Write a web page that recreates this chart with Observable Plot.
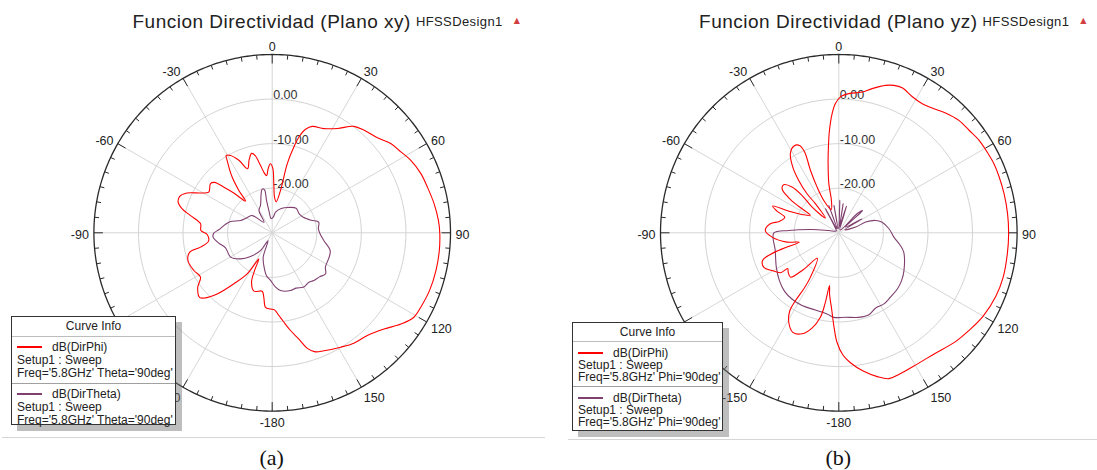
<!DOCTYPE html>
<html><head><meta charset="utf-8">
<script src="https://cdn.jsdelivr.net/npm/d3@7"></script>
<script src="https://cdn.jsdelivr.net/npm/@observablehq/plot@0.6"></script>
<style>
body{margin:0;background:#fff;}
#wrap{position:relative;width:1097px;height:470px;overflow:hidden;font-family:"Liberation Sans",Arial,sans-serif;color:#222}
.title{position:absolute;top:12px;white-space:nowrap;transform:translateX(-50%);font-size:19px;letter-spacing:.5px;line-height:19px;color:#222}
.title .sub{position:absolute;left:100%;top:0;margin-left:5px;font-size:13px;letter-spacing:.4px;line-height:19px}
.title .tri{margin-left:11px;font-size:8px;color:#d24040;font-family:"DejaVu Sans",sans-serif;position:relative;top:-3px}
.panel{position:absolute;top:32px}
.legend{position:absolute;background:#fff;border:1px solid #333;box-shadow:6px 6px 0 rgba(110,110,110,0.45);font-size:12px;box-sizing:border-box;white-space:nowrap}
.legend .hd{text-align:center;border-bottom:1px solid #bdbdbd;box-sizing:border-box}
.legend .ent{padding-left:5px;box-sizing:border-box}
.legend .ent + .ent{border-top:1px solid #a0a0a0}
.legend .sw{display:inline-block;width:25px;height:2px;vertical-align:middle;margin-right:10px;position:relative;top:-1px}
.sep{position:absolute;height:1px;background:#d6d6d6}
.cap{position:absolute;top:445px;font-family:"Liberation Serif","Times New Roman",serif;font-size:22px;transform:translateX(-50%);color:#111}
</style></head><body><div id="wrap"></div>
<script>
// ---------- data ----------
const dbMin = -30, dbMax = 10;
const ringDb = [0, -10, -20];
const ringLabels = ["0.00", "-10.00", "-20.00"];
const angleTicks = [0, 30, 60, 90, 120, 150, 180, -150, -120, -90, -60, -30];
const angleTickLabels = ["0", "30", "60", "90", "120", "150", "-180", "-150", "-120", "-90", "-60", "-30"];
const panelTitles = ["Funcion Directividad (Plano xy)", "Funcion Directividad (Plano yz)"];
const designName = "HFSSDesign1";
const seriesNames = ["dB(DirPhi)", "dB(DirTheta)"];
const seriesColors = ["#ff0000", "#7f3f6f"];
const setupText = "Setup1 : Sweep";
const freqText = ["Freq='5.8GHz' Theta='90deg'", "Freq='5.8GHz' Phi='90deg'"];
const captions = ["(a)", "(b)"];

// [angle deg, dB]
const xyDirPhi = [[7.4,-23.0],[11.1,-20.3],[12.3,-14.1],[14.2,-10.1],[15.6,-7.7],[17.9,-5.6],[20.6,-4.5],[26.4,-3.9],[32.0,-2.4],[37.5,0.1],[41.9,0.9],[47.9,1.8],[53.0,3.3],[57.8,4.1],[62.4,5.1],[68.3,5.9],[73.6,6.3],[79.8,6.9],[85.8,7.4],[90.3,7.6],[96.1,7.7],[102.9,7.7],[110,7.6],[116,7.3],[120.8,7.0],[125.3,5.4],[130.7,3.1],[137.2,1.4],[143.5,0.8],[149.1,-0.1],[156.3,-1.1],[160.1,-1.6],[163.1,-2.9],[165.9,-5.4],[169.4,-7.7],[172.9,-10.0],[175.4,-11.4],[178.3,-12.7],[-178.7,-12.9],[-174.9,-13.2],[-172.6,-15.4],[-170.3,-16.7],[-162.6,-16.3],[-157.3,-18.0],[-154.9,-20.7],[-152.9,-23.4],[-148.6,-19.2],[-143.1,-15.7],[-138.0,-11.5],[-134.3,-9.1],[-131.6,-8.2],[-126.2,-9.3],[-121.7,-11.1],[-115.7,-10.5],[-108.2,-10.1],[-103.2,-11.0],[-101.3,-13.6],[-97.5,-15.6],[-91.5,-15.4],[-88.1,-14.0],[-82.8,-13.8],[-78.0,-11.2],[-75.1,-9.1],[-71.9,-7.8],[-68.5,-7.7],[-65.0,-8.9],[-61.0,-11.6],[-57.3,-13.1],[-51.5,-12.3],[-48.9,-12.8],[-46.6,-15.1],[-44.0,-17.6],[-40.1,-20.7],[-38.2,-17.9],[-35.7,-14.6],[-31.9,-10.9],[-30.7,-9.8],[-28.3,-10.3],[-24.7,-12.1],[-21.0,-14.6],[-17.5,-12.8],[-14.5,-11.6],[-12.5,-12.2],[-10,-14.5],[-7.5,-16.5],[-5.6,-17.1],[-3.5,-15.5],[-1.5,-14.5],[0.5,-15.5],[1.9,-19.0],[3.7,-22.0]];
const xyDirTheta = [[3.7,-26.5],[9.2,-25.3],[20.5,-24.2],[32,-23.3],[44.2,-22.3],[55,-22.6],[63.4,-22.2],[72.2,-20.8],[77,-19.3],[84.9,-19.6],[90.8,-19.3],[98.4,-18.3],[107,-16.4],[113.2,-16.1],[122.8,-15.8],[127.5,-14.9],[133,-15.5],[138.8,-15.8],[143.4,-16.2],[149.8,-15.9],[156.8,-16.5],[162.4,-16.4],[171.8,-16.9],[176.5,-17.8],[-178,-19.3],[-172.4,-20.3],[-165.7,-22.4],[-159.7,-24.2],[-152,-28],[-146.6,-25.2],[-137.5,-22.8],[-129.4,-20.8],[-120.3,-19.2],[-107.8,-19.0],[-101,-17.8],[-94.2,-16.7],[-90.3,-16.9],[-86.8,-18.0],[-79.9,-19.3],[-74.8,-20.3],[-68.7,-22.4],[-59,-23.4],[-49.1,-24.1],[-38,-27],[-30.8,-24.2],[-23.1,-23.3],[-15.8,-20.9],[-12.8,-19.9],[-10.1,-20.2],[-9.9,-22.6],[-8.5,-24.9],[-4.1,-26.8]];
const yzDirPhi = [[-12.8,-22.5],[-11.5,-18.8],[-8.8,-14.3],[-6.9,-10.6],[-5.2,-6.9],[-3.2,-3.2],[-1.5,-1.0],[0.7,0.5],[4.1,1.3],[9.4,2.0],[13,3.2],[17.6,4.7],[20.5,5.3],[23.6,5.5],[28.4,4.7],[32.9,4.5],[38.1,5.2],[41.7,6.0],[46.9,6.9],[51.8,7.2],[56.6,7.7],[61.5,7.9],[66,8.1],[70.8,8.1],[76.7,8.1],[83.6,8.1],[90.3,8.1],[97,8.1],[105,8.2],[112,8.0],[120,7.4],[127,6.5],[133,5.8],[141.6,4.6],[149,4.3],[156.7,4.5],[161,4.6],[165,3.4],[170,1.5],[175,-0.8],[178,-2.5],[-179,-5.5],[-177,-9],[-174.5,-13],[-171.5,-16],[-170,-18],[-169,-13.8],[-167.7,-10.6],[-164.3,-7.8],[-160,-5.9],[-155.2,-5.4],[-150.8,-7.0],[-147.8,-9.4],[-147.4,-11.9],[-148,-15.2],[-147.4,-18.2],[-140,-22.5],[-136,-18.5],[-132.6,-15.3],[-128,-15.6],[-125,-16.0],[-124.5,-14.2],[-119.5,-12.8],[-115,-11.5],[-110,-11.8],[-107.5,-14.0],[-105.5,-17.5],[-103.3,-20.9],[-100.2,-18.2],[-93.7,-15.0],[-88.2,-13.5],[-82.5,-14.5],[-79.2,-16.4],[-74,-17.4],[-70.5,-15.2],[-68,-14.0],[-66.6,-17.8],[-63.4,-20.8],[-58.5,-22.5],[-56.6,-19.2],[-55,-16.3],[-52.2,-13.9],[-48.9,-13.6],[-45.6,-15.3],[-44.5,-18.2],[-46.1,-21.7],[-42,-25.5],[-38.8,-21.6],[-39.1,-18.7],[-37.4,-15.2],[-35,-12.0],[-31.5,-9.2],[-27.5,-8.1],[-24.2,-8.5],[-22.9,-10.3],[-24.4,-14.6],[-25.4,-18.6],[-24.9,-22.0],[-18,-24.5]];
const yzDirTheta = [[-90.3,-15.4],[-87.3,-18.8],[-82.9,-24.0],[-76.9,-27.7],[-55,-29.3],[-35,-28.5],[-29,-23.8],[-25,-29],[-20,-23.5],[-15,-29],[-10,-23.8],[-5,-29],[1.8,-22.7],[5,-28.5],[8.5,-23.4],[12,-29],[16,-23.8],[25,-29.3],[44,-24],[47,-22.7],[50,-28],[59,-23.9],[63,-28.5],[71.2,-26.0],[68.2,-23.5],[71.4,-21.3],[76.2,-20.0],[85.4,-18.7],[94.5,-17.6],[101.6,-15.9],[106.6,-14.8],[120.1,-13.1],[127.3,-12.3],[133.8,-11.8],[141.2,-11.5],[147.6,-11.1],[153.9,-11.2],[159.8,-10.4],[166.7,-10.5],[175.5,-11.0],[-176.6,-11.0],[-171.8,-11.6],[-163.1,-11.9],[-153.2,-11.7],[-144.7,-11.8],[-137.2,-12.1],[-128.8,-12.9],[-118.8,-14.0],[-105.6,-15.2]];

// ---------- drawing ----------
const wrap = document.getElementById("wrap");
const R = 178.3;                 // pixel radius of outer frame
const span = dbMax - dbMin;
const K = R / span;              // px per dB
const rad = d => d * Math.PI / 180;
const px = (a, r) => r * Math.sin(rad(a));
const py = (a, r) => r * Math.cos(rad(a));

function polarPanel(series, cx, cy, width, height, hideRect) {
  const toPts = arr => arr.map(([a, db]) => { const r = Math.max(0, db - dbMin); return {x: px(a, r), y: py(a, r)}; });
  const ringPts = ringDb.flatMap(l => d3.range(0, 361, 2).map(a => ({ring: l, x: px(a, l - dbMin), y: py(a, l - dbMin)})));
  const framePts = d3.range(0, 361, 1).map(a => ({x: px(a, span), y: py(a, span)}));
  const spokes = d3.range(0, 360, 30);
  const ticks = d3.range(0, 360, 5);
  const lx = d => px(d.a, span) + 5 * d.s / K;
  const ly = d => py(d.a, span) + (10 * d.c - 2) / K;
  // labels whose anchor falls fully under the legend box are hidden there in the reference
  const labs = angleTicks.map((a, i) => ({a, t: angleTickLabels[i], s: Math.sin(rad(a)), c: Math.cos(rad(a))}))
    .filter(d => {
      const X = cx + lx(d) * K, Y = cy - ly(d) * K;
      return !(X > hideRect.x0 && X < hideRect.x1 && Y > hideRect.y0 && Y < hideRect.y1);
    });
  const textOpts = {fontSize: 12.5, fill: "#222", lineAnchor: "middle"};
  return Plot.plot({
    width, height,
    x: {domain: [-span, span], range: [cx - R, cx + R], axis: null},
    y: {domain: [-span, span], range: [cy + R, cy - R], axis: null},
    style: {overflow: "visible", background: "transparent", fontFamily: '"Liberation Sans", Arial, sans-serif'},
    marks: [
      Plot.link(spokes, {x1: 0, y1: 0, x2: a => px(a, span), y2: a => py(a, span), stroke: "#d6d6d6", strokeWidth: 1}),
      Plot.line(ringPts, {x: "x", y: "y", z: "ring", stroke: "#d3d3d3", strokeWidth: 1}),
      Plot.line(framePts, {x: "x", y: "y", stroke: "#2a2a2a", strokeWidth: 1.3}),
      Plot.link(ticks, {x1: a => px(a, span), y1: a => py(a, span),
        x2: a => px(a, span - (a % 30 === 0 ? 9 : 4.5) / K), y2: a => py(a, span - (a % 30 === 0 ? 9 : 4.5) / K),
        stroke: "#2a2a2a", strokeWidth: 1}),
      Plot.text(ringDb, {x: 0, y: l => l - dbMin, text: (l, i) => ringLabels[i], textAnchor: "start", dx: 1, dy: -4, ...textOpts, fill: "#333"}),
      Plot.text(labs.filter(d => d.s > 0.01), {x: lx, y: ly, text: "t", textAnchor: "start", ...textOpts}),
      Plot.text(labs.filter(d => d.s < -0.01), {x: lx, y: ly, text: "t", textAnchor: "end", ...textOpts}),
      Plot.text(labs.filter(d => Math.abs(d.s) <= 0.01), {x: lx, y: ly, text: "t", textAnchor: "middle", ...textOpts}),
      Plot.line(toPts(series[1]), {x: "x", y: "y", stroke: seriesColors[1], strokeWidth: 1.1, curve: "catmull-rom-closed"}),
      Plot.line(toPts(series[0]), {x: "x", y: "y", stroke: seriesColors[0], strokeWidth: 1.1, curve: "catmull-rom-closed"})
    ]
  });
}

function addPanel(i, left, width, cxPage, series, leg) {
  const top = 32, cyPage = 232.3;
  const div = document.createElement("div");
  div.className = "panel";
  div.style.left = left + "px";
  const hide = {x0: leg.x - left, x1: leg.x + leg.w - left, y0: leg.y - top, y1: leg.y + leg.h - top};
  div.appendChild(polarPanel(series, cxPage - left, cyPage - top, width, 405, hide));
  wrap.appendChild(div);

  const t = document.createElement("div");
  t.className = "title";
  t.style.left = cxPage + "px";
  t.innerHTML = `${panelTitles[i]}<span class="sub">${designName}<span class="tri">▲</span></span>`;
  wrap.appendChild(t);

  const sep = document.createElement("div");
  sep.className = "sep";
  sep.style.left = leg.sepX0 + "px"; sep.style.width = (leg.sepX1 - leg.sepX0) + "px"; sep.style.top = leg.sepY + "px";
  wrap.appendChild(sep);

  const g = document.createElement("div");
  g.className = "legend";
  Object.assign(g.style, {left: leg.x + "px", top: leg.y + "px", width: leg.w + "px", height: leg.h + "px", lineHeight: leg.lh + "px"});
  let html = `<div class="hd" style="height:${leg.hd}px;line-height:${leg.hd - 1}px">Curve Info</div>`;
  seriesNames.forEach((n, k) => {
    html += `<div class="ent" style="height:${leg.eh[k]}px;padding-top:${leg.pt}px"><span class="sw" style="background:${seriesColors[k]}"></span>${n}<br>${setupText}<br>${freqText[i]}</div>`;
  });
  g.innerHTML = html;
  wrap.appendChild(g);

  const c = document.createElement("div");
  c.className = "cap";
  c.style.left = cxPage + "px";
  c.textContent = captions[i];
  wrap.appendChild(c);
}

addPanel(0, 0, 548, 271.7, [xyDirPhi, xyDirTheta],
  {x: 11, y: 316, w: 165, h: 109, hd: 20, eh: [46, 43], pt: 4, lh: 13, sepX0: 2, sepX1: 545, sepY: 437});
addPanel(1, 548, 549, 838.3, [yzDirPhi, yzDirTheta],
  {x: 572, y: 322, w: 151, h: 109, hd: 19, eh: [44, 46], pt: 5, lh: 12, sepX0: 568, sepX1: 1097, sepY: 439});
</script></body></html>
